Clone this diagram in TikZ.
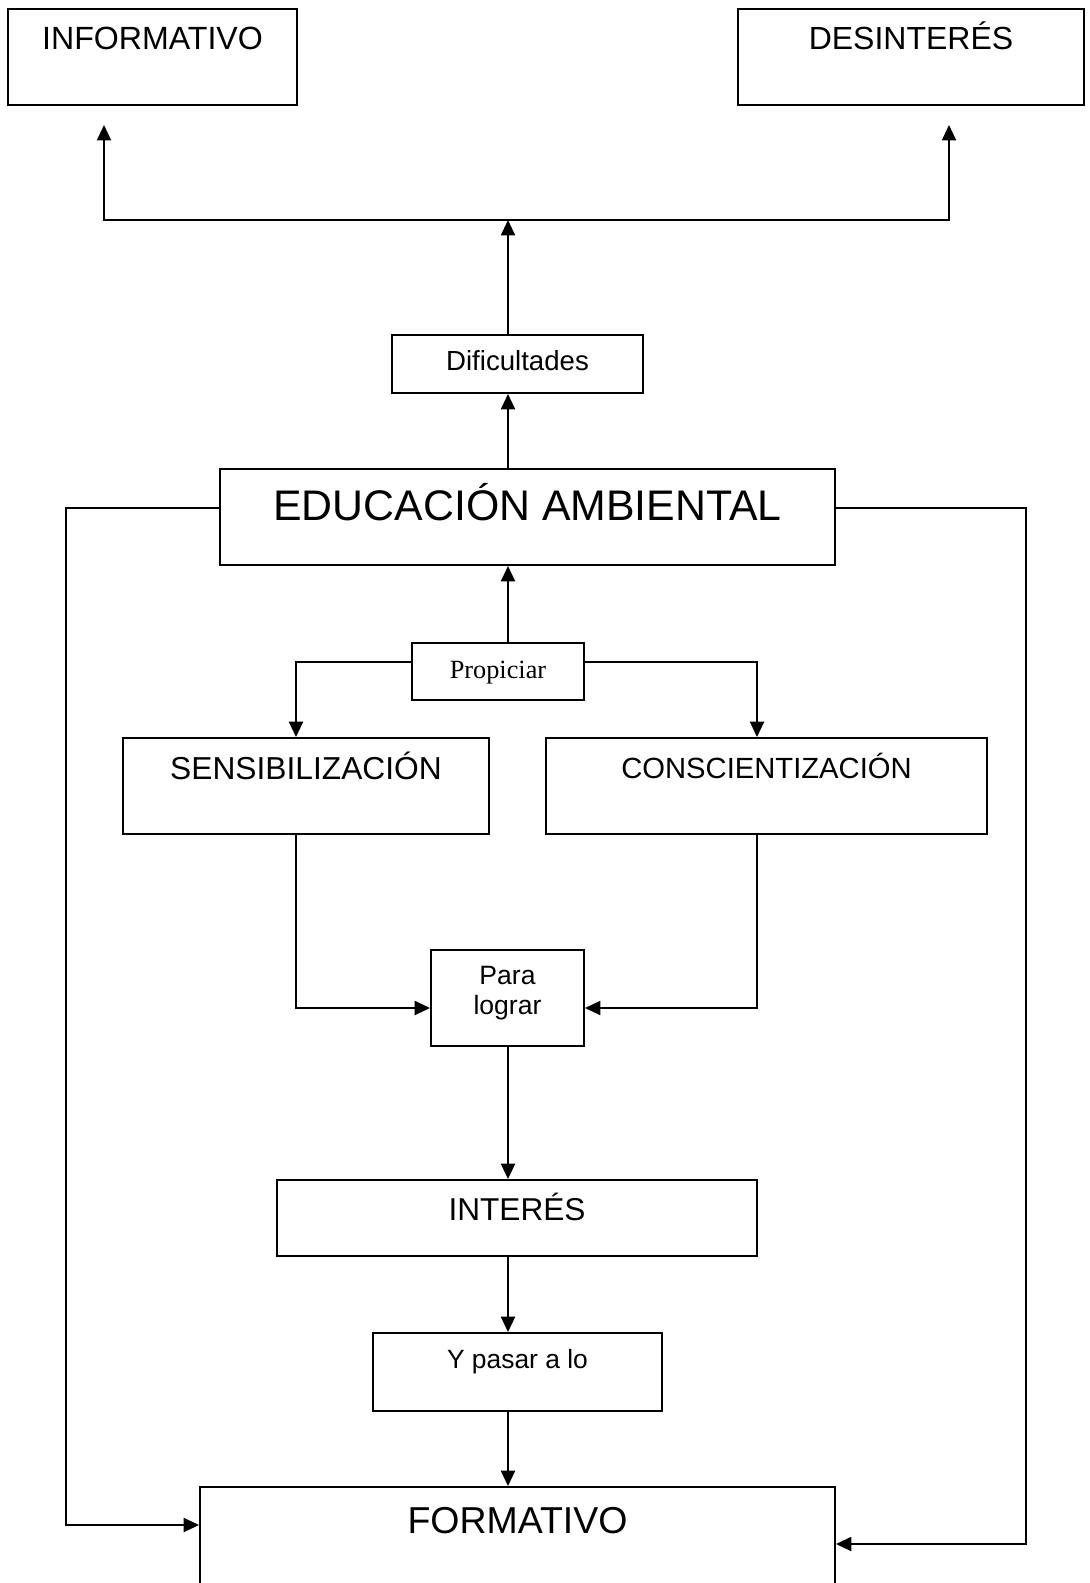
\documentclass[tikz,border=0pt]{standalone}
\usepackage{fontspec}
\setmainfont{Liberation Sans}
\newfontfamily\tnr{Liberation Serif}
\usetikzlibrary{arrows.meta}
\begin{document}
\begin{tikzpicture}[x=0.75pt,y=-0.75pt,
  box/.style={draw,line width=1.45pt,inner sep=0pt},
  lbl/.style={inner sep=0pt,outer sep=0pt,anchor=base},
  arr/.style={line width=1.45pt,-{Triangle[length=11.5pt,width=10.5pt]}}]
\useasboundingbox (0,0) rectangle (1089,1583);
% boxes
\node[box,minimum width=216.75pt,minimum height=72pt] (inf) at (152.5,57) {};
\node[box,minimum width=259.5pt,minimum height=72pt] (des) at (911,57) {};
\node[box,minimum width=188.25pt,minimum height=43.5pt] (dif) at (517.5,364) {};
\node[box,minimum width=461.25pt,minimum height=72pt] (ea) at (527.5,517) {};
\node[box,minimum width=129pt,minimum height=42.75pt] (pro) at (498,671.5) {};
\node[box,minimum width=274.5pt,minimum height=72pt] (sen) at (306,786) {};
\node[box,minimum width=330.75pt,minimum height=72pt] (con) at (766.5,786) {};
\node[box,minimum width=114.75pt,minimum height=72pt] (para) at (507.5,998) {};
\node[box,minimum width=360pt,minimum height=57pt] (int) at (517,1218) {};
\node[box,minimum width=216.75pt,minimum height=58.5pt] (ypa) at (517.5,1372) {};
\node[box,minimum width=476.25pt,minimum height=72.75pt] (for) at (517.5,1535.5) {};
% texts
\node[lbl,font=\fontsize{24.1}{28}\selectfont] (infT) at (152.5,49.5) {INFORMATIVO};
\node[lbl,font=\fontsize{24}{28}\selectfont] (desT) at (911,49.5) {DESINTERÉS};
\node[lbl,font=\fontsize{20.7}{25}\selectfont] (difT) at (517.5,370.5) {Dificultades};
\node[lbl,font=\fontsize{32.1}{38}\selectfont] (eaT) at (527.5,520) {EDUCACIÓN AMBIENTAL};
\node[lbl,font=\tnr\fontsize{19.7}{24}\selectfont] (proT) at (498,678.3) {Propiciar};
\node[lbl,font=\fontsize{23.8}{28}\selectfont] (senT) at (306,779) {SENSIBILIZACIÓN};
\node[lbl,font=\fontsize{21.9}{26}\selectfont] (conT) at (766.5,778) {CONSCIENTIZACIÓN};
\node[lbl,font=\fontsize{19.9}{24}\selectfont] (paraT) at (507.5,984) {Para};
\node[lbl,font=\fontsize{19.9}{24}\selectfont] (logT) at (507.5,1014) {lograr};
\node[lbl,font=\fontsize{23.7}{28}\selectfont] (intT) at (517,1220) {INTERÉS};
\node[lbl,font=\fontsize{19.8}{24}\selectfont] (ypaT) at (517.5,1368.3) {Y pasar a lo};
\node[lbl,font=\fontsize{28.1}{33}\selectfont] (forT) at (517.5,1533) {FORMATIVO};
% helper coordinates
\coordinate (xa) at (508,0);
\coordinate (jn) at (508,220);
\coordinate (infA) at (104,125);
\coordinate (desA) at (949,125);
\coordinate (py) at (0,662);
\coordinate (xs) at (296,0);
\coordinate (xc) at (757,0);
\coordinate (yp) at (0,1008);
\coordinate (ye) at (0,508);
\coordinate (xl) at (66,0);
\coordinate (xr) at (1026,0);
\coordinate (yfl) at (0,1525);
\coordinate (yfr) at (0,1544);
% connectors
\draw[arr] (xa |- ea.north) -- (xa |- dif.south);
\draw[arr] (xa |- dif.north) -- (jn);
\draw[arr] (jn) -| (infA);
\draw[arr] (jn) -| (desA);
\draw[arr] (xa |- pro.north) -- (xa |- ea.south);
\draw[arr] (py -| pro.west) -| (xs |- sen.north);
\draw[arr] (py -| pro.east) -| (xc |- con.north);
\draw[arr] (xs |- sen.south) |- (yp -| para.west);
\draw[arr] (xc |- con.south) |- (yp -| para.east);
\draw[arr] (xa |- para.south) -- (xa |- int.north);
\draw[arr] (xa |- int.south) -- (xa |- ypa.north);
\draw[arr] (xa |- ypa.south) -- (xa |- for.north);
\draw[arr] (ye -| ea.west) -- (xl |- ye) |- (yfl -| for.west);
\draw[arr] (ye -| ea.east) -- (xr |- ye) |- (yfr -| for.east);
\end{tikzpicture}
\end{document}
